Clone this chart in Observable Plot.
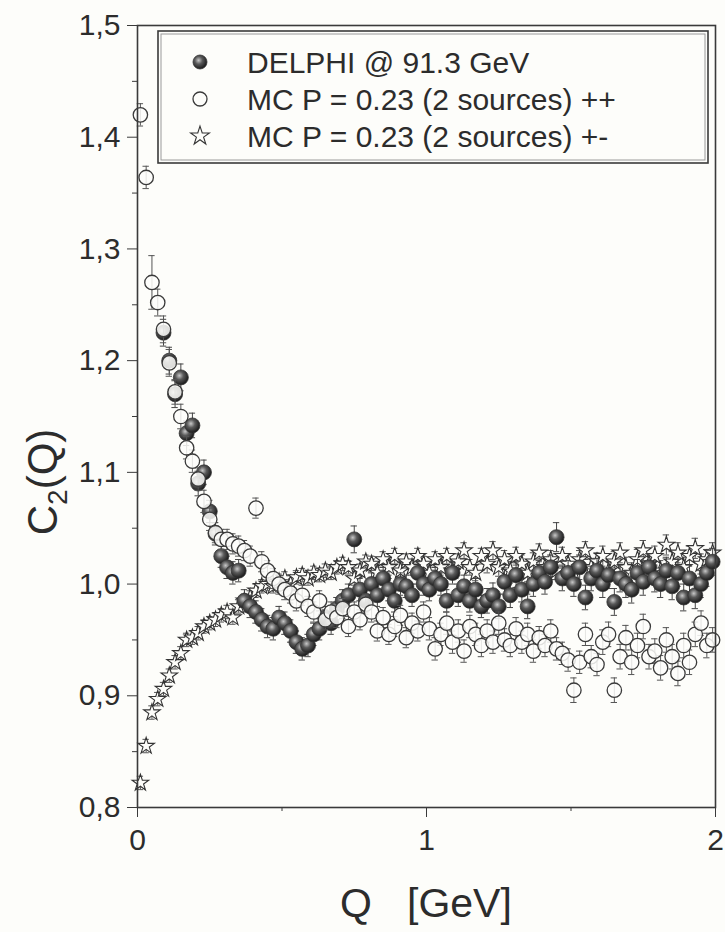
<!DOCTYPE html>
<html>
<head>
<meta charset="utf-8">
<script src="https://cdn.jsdelivr.net/npm/d3@7"></script>
<script src="https://cdn.jsdelivr.net/npm/@observablehq/plot@0.6"></script>
<style>
  html, body { margin: 0; padding: 0; background: #fdfdfa; }
  #chart { width: 725px; height: 932px; }
</style>
</head>
<body>
<div id="chart"></div>
<script>
// ---------- data ----------
const qValues = [
  0.01,0.03,0.05,0.07,0.09,0.11,0.13,0.15,0.17,0.19,
  0.21,0.23,0.25,0.27,0.29,0.31,0.33,0.35,0.37,0.39,
  0.41,0.43,0.45,0.47,0.49,0.51,0.53,0.55,0.57,0.59,
  0.61,0.63,0.65,0.67,0.69,0.71,0.73,0.75,0.77,0.79,
  0.81,0.83,0.85,0.87,0.89,0.91,0.93,0.95,0.97,0.99,
  1.01,1.03,1.05,1.07,1.09,1.11,1.13,1.15,1.17,1.19,
  1.21,1.23,1.25,1.27,1.29,1.31,1.33,1.35,1.37,1.39,
  1.41,1.43,1.45,1.47,1.49,1.51,1.53,1.55,1.57,1.59,
  1.61,1.63,1.65,1.67,1.69,1.71,1.73,1.75,1.77,1.79,
  1.81,1.83,1.85,1.87,1.89,1.91,1.93,1.95,1.97,1.99
];

// DELPHI @ 91.3 GeV (filled)
const delphiC2 = [
  null,null,null,null,1.225,1.200,1.170,1.185,1.135,1.142,
  1.090,1.100,1.065,1.045,1.025,1.015,1.010,1.012,0.985,0.980,
  0.975,0.968,0.962,0.960,0.970,0.965,0.958,0.948,0.942,0.945,
  0.955,0.960,0.970,0.965,0.978,0.985,0.990,1.040,0.995,0.985,
  1.000,0.990,1.005,0.995,0.985,1.000,0.998,0.990,1.010,1.000,
  0.995,1.005,1.000,0.985,1.010,0.990,0.998,0.985,0.995,0.980,
  0.985,0.990,0.980,1.002,0.990,1.008,0.995,0.980,1.000,1.010,
  1.002,1.015,1.042,1.005,1.010,1.000,1.015,0.988,1.005,1.012,
  1.000,1.008,0.984,1.005,1.000,0.995,1.010,1.002,1.015,1.005,
  1.000,1.012,0.998,1.010,0.988,1.005,0.990,1.000,1.010,1.020
];
const delphiErr = [
  0,0,0,0,0.012,0.012,0.012,0.012,0.011,0.011,
  0.011,0.011,0.010,0.010,0.010,0.010,0.010,0.010,0.010,0.010,
  0.010,0.010,0.010,0.010,0.010,0.010,0.010,0.010,0.010,0.010,
  0.010,0.010,0.010,0.010,0.010,0.010,0.010,0.012,0.010,0.010,
  0.010,0.010,0.010,0.010,0.010,0.010,0.010,0.010,0.010,0.010,
  0.010,0.010,0.010,0.010,0.010,0.010,0.010,0.010,0.010,0.010,
  0.011,0.011,0.011,0.011,0.011,0.011,0.011,0.011,0.011,0.011,
  0.011,0.011,0.013,0.011,0.011,0.011,0.011,0.011,0.011,0.011,
  0.012,0.012,0.012,0.012,0.012,0.012,0.012,0.012,0.012,0.012,
  0.012,0.012,0.012,0.012,0.012,0.012,0.012,0.012,0.012,0.012
];

// MC P = 0.23 (2 sources) ++ (open circles)
const mcLikeC2 = [
  1.420,1.364,1.270,1.252,1.228,1.198,1.172,1.150,1.122,1.110,
  1.094,1.074,1.058,1.046,1.040,1.040,1.036,1.034,1.030,1.025,
  1.068,1.020,1.012,1.005,1.000,0.995,0.992,0.985,0.990,0.980,
  0.975,0.985,0.968,0.975,0.970,0.978,0.962,0.975,0.968,0.982,
  0.975,0.958,0.970,0.955,0.962,0.972,0.952,0.965,0.958,0.975,
  0.960,0.942,0.955,0.965,0.948,0.958,0.940,0.962,0.955,0.945,
  0.958,0.948,0.965,0.950,0.945,0.960,0.948,0.955,0.940,0.952,
  0.945,0.958,0.942,0.938,0.932,0.905,0.930,0.955,0.935,0.928,
  0.948,0.955,0.905,0.935,0.952,0.930,0.945,0.962,0.935,0.940,
  0.925,0.950,0.935,0.920,0.945,0.930,0.955,0.965,0.945,0.950
];
const mcLikeErr = [
  0.010,0.010,0.024,0.012,0.012,0.012,0.011,0.011,0.010,0.010,
  0.010,0.010,0.010,0.009,0.009,0.009,0.009,0.009,0.009,0.009,
  0.009,0.009,0.009,0.009,0.009,0.009,0.009,0.009,0.009,0.009,
  0.009,0.009,0.009,0.009,0.009,0.009,0.009,0.009,0.009,0.009,
  0.009,0.009,0.009,0.009,0.009,0.009,0.009,0.009,0.009,0.009,
  0.010,0.010,0.010,0.010,0.010,0.010,0.010,0.010,0.010,0.010,
  0.010,0.010,0.010,0.010,0.010,0.010,0.010,0.010,0.010,0.010,
  0.010,0.010,0.010,0.010,0.010,0.011,0.010,0.010,0.010,0.010,
  0.011,0.011,0.011,0.011,0.011,0.011,0.011,0.011,0.011,0.011,
  0.011,0.011,0.011,0.011,0.011,0.011,0.011,0.011,0.011,0.011
];

// MC P = 0.23 (2 sources) +- (stars)
const mcUnlikeC2 = [
  0.822,0.855,0.885,0.897,0.906,0.918,0.930,0.938,0.950,0.952,
  0.956,0.962,0.965,0.968,0.972,0.975,0.970,0.980,0.985,0.988,
  0.994,0.998,1.000,0.998,1.002,1.005,1.000,1.006,1.008,1.005,
  1.010,1.008,1.012,1.010,1.015,1.018,1.015,1.005,1.012,1.020,
  1.018,1.010,1.022,1.015,1.025,1.012,1.020,1.015,1.025,1.018,
  1.010,1.022,1.015,1.025,1.012,1.020,1.030,1.015,1.010,1.025,
  1.018,1.030,1.015,1.022,1.012,1.025,1.018,1.010,1.020,1.028,
  1.015,1.022,1.012,1.025,1.018,1.010,1.022,1.030,1.015,1.020,
  1.025,1.012,1.020,1.028,1.015,1.010,1.022,1.030,1.018,1.025,
  1.012,1.035,1.020,1.028,1.015,1.025,1.032,1.018,1.022,1.028
];
const mcUnlikeErr = [
  0.006,0.006,0.006,0.006,0.006,0.006,0.006,0.006,0.006,0.006,
  0.006,0.006,0.006,0.006,0.006,0.006,0.006,0.006,0.006,0.006,
  0.006,0.006,0.006,0.006,0.006,0.006,0.006,0.006,0.006,0.006,
  0.006,0.006,0.006,0.006,0.006,0.006,0.006,0.006,0.006,0.006,
  0.007,0.007,0.007,0.007,0.007,0.007,0.007,0.007,0.007,0.007,
  0.007,0.007,0.007,0.007,0.007,0.007,0.007,0.007,0.007,0.007,
  0.008,0.008,0.008,0.008,0.008,0.008,0.008,0.008,0.008,0.008,
  0.008,0.008,0.008,0.008,0.008,0.008,0.008,0.008,0.008,0.008,
  0.009,0.009,0.009,0.009,0.009,0.009,0.009,0.009,0.009,0.009,
  0.009,0.009,0.009,0.009,0.009,0.009,0.009,0.009,0.009,0.009
];

const yTicks = [0.8, 0.9, 1.0, 1.1, 1.2, 1.3, 1.4, 1.5];
const yMinorTicks = [0.85, 0.95, 1.05, 1.15, 1.25, 1.35, 1.45];
const xTicks = [0, 1, 2];
const xMinorTicks = [0.5, 1.5];
const legendLabels = ["DELPHI @ 91.3 GeV", "MC P = 0.23 (2 sources) ++", "MC P = 0.23 (2 sources) +-"];

// ---------- build ----------
const rows = (vals, errs) => qValues.map((q, i) => ({q, c: vals[i], e: errs[i]})).filter(d => d.c != null);
const delphi = rows(delphiC2, delphiErr);
const mcLike = rows(mcLikeC2, mcLikeErr);
const mcUnlike = rows(mcUnlikeC2, mcUnlikeErr);

const errMarks = (data, color) => [
  Plot.ruleX(data, {x: "q", y1: d => d.c - d.e, y2: d => d.c + d.e, stroke: color, strokeWidth: 1}),
  Plot.ruleY(data, {y: d => d.c + d.e, x1: d => d.q - 0.011, x2: d => d.q + 0.011, stroke: color, strokeWidth: 1}),
  Plot.ruleY(data, {y: d => d.c - d.e, x1: d => d.q - 0.011, x2: d => d.q + 0.011, stroke: color, strokeWidth: 1})
];

const ink = "#2c2c2c";
const svg = Plot.plot({
  width: 725,
  height: 932,
  marginLeft: 137,
  marginRight: 10,
  marginTop: 25,
  marginBottom: 125,
  style: {background: "#fdfdfa", color: ink, fontFamily: "'Liberation Sans', Arial, sans-serif"},
  x: {domain: [0, 2]},
  y: {domain: [0.8, 1.5]},
  marks: [
    ...errMarks(mcUnlike, "#555"),
    Plot.dot(mcUnlike, {x: "q", y: "c", symbol: "star", r: 5.2, fill: "#fdfdfa", stroke: "#333", strokeWidth: 1.1}),
    ...errMarks(delphi, "#444"),
    Plot.dot(delphi, {x: "q", y: "c", r: 7.5, fill: "url(#sphere)", stroke: "#333", strokeWidth: 0.8}),
    ...errMarks(mcLike, "#555"),
    Plot.dot(mcLike, {x: "q", y: "c", r: 7.2, fill: "#fdfdfa", fillOpacity: 0.85, stroke: "#3a3a3a", strokeWidth: 1.3}),
    Plot.frame({stroke: "#3a3a3a", strokeWidth: 1.6}),
    Plot.axisY(yTicks, {tickSize: 10, tickPadding: 7, fontSize: 30, tickFormat: d => d.toFixed(1).replace(".", ","), label: null, stroke: "#3a3a3a"}),
    Plot.axisY(yMinorTicks, {tickSize: 5, tickFormat: () => "", label: null, stroke: "#3a3a3a"}),
    Plot.axisX(xTicks, {tickSize: 10, tickPadding: 11, fontSize: 30, tickFormat: d => String(d), label: null, stroke: "#3a3a3a"}),
    Plot.axisX(xMinorTicks, {tickSize: 4, tickFormat: () => "", label: null, stroke: "#3a3a3a"})
  ]
});

const s = d3.select(svg);
const defs = s.insert("defs", ":first-child");
const grad = defs.append("radialGradient").attr("id", "sphere").attr("cx", "40%").attr("cy", "38%").attr("r", "60%");
grad.append("stop").attr("offset", "0%").attr("stop-color", "#c8c8c8");
grad.append("stop").attr("offset", "45%").attr("stop-color", "#5a5a5a");
grad.append("stop").attr("offset", "100%").attr("stop-color", "#1e1e1e");

// Legend box
const lg = s.append("g").attr("text-anchor", "start");
lg.append("rect").attr("x", 158).attr("y", 31).attr("width", 550).attr("height", 132)
  .attr("fill", "#fdfdfa").attr("stroke", "#3a3a3a").attr("stroke-width", 1.6);
lg.append("rect").attr("x", 161).attr("y", 34).attr("width", 544).attr("height", 126)
  .attr("fill", "none").attr("stroke", "#9a9a9a").attr("stroke-width", 1);
const rowY = [62, 99, 136];
lg.append("circle").attr("cx", 200).attr("cy", rowY[0]).attr("r", 7).attr("fill", "url(#sphere)").attr("stroke", "#333").attr("stroke-width", 0.8);
lg.append("circle").attr("cx", 200).attr("cy", rowY[1]).attr("r", 7).attr("fill", "none").attr("stroke", "#3a3a3a").attr("stroke-width", 1.3);
lg.append("path").attr("transform", `translate(200,${rowY[2]})`).attr("d", d3.symbol(d3.symbolStar, 110)())
  .attr("fill", "none").attr("stroke", "#333").attr("stroke-width", 1.1);
legendLabels.forEach((t, i) => {
  lg.append("text").attr("x", 247).attr("y", rowY[i]).attr("dy", "0.36em").attr("text-anchor", "start")
    .attr("font-size", 30).attr("fill", ink).text(t);
});

// Y-axis title C2(Q)
const yt = s.append("text").attr("transform", "translate(57,482) rotate(-90)")
  .attr("text-anchor", "middle").attr("font-size", 42).attr("fill", ink);
yt.append("tspan").text("C");
yt.append("tspan").attr("font-size", 28).attr("dy", 10).text("2");
yt.append("tspan").attr("dy", -10).text("(Q)");

// X-axis title
s.append("text").attr("x", 340).attr("y", 917).attr("text-anchor", "start").attr("font-size", 41).attr("fill", ink).text("Q");
s.append("text").attr("x", 407).attr("y", 917).attr("text-anchor", "start").attr("font-size", 41).attr("fill", ink).text("[GeV]");

document.getElementById("chart").appendChild(svg);
</script>
</body>
</html>
